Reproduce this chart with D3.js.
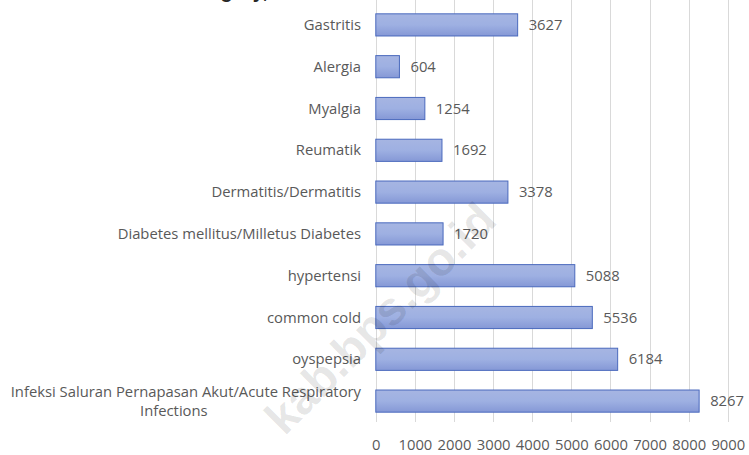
<!DOCTYPE html>
<html><head><meta charset="utf-8">
<script src="https://cdn.jsdelivr.net/npm/d3@7"></script>
<style>
html,body{margin:0;padding:0;background:#fff;}
svg{display:block;}
</style></head>
<body>
<svg id="chart" width="749" height="455"></svg>
<script>
const categories = [
  "Gastritis",
  "Alergia",
  "Myalgia",
  "Reumatik",
  "Dermatitis/Dermatitis",
  "Diabetes mellitus/Milletus Diabetes",
  "hypertensi",
  "common cold",
  "oyspepsia",
  "Infeksi Saluran Pernapasan Akut/Acute Respiratory|Infections"
];
const values = [3627, 604, 1254, 1692, 3378, 1720, 5088, 5536, 6184, 8267];
const xTicks = [0, 1000, 2000, 3000, 4000, 5000, 6000, 7000, 8000, 9000];
const titleText = "Category,";
const watermark = "kab.bps.go.id";

const svg = d3.select("#chart");
const font = "'Open Sans', sans-serif";
const gray = "#595959";
const fs = 14.8;

const x = d3.scaleLinear().domain([0, 9000]).range([375.8, 727.8]);
const y = d3.scaleBand().domain(categories).range([4, 422]).paddingInner(0.47).paddingOuter(0.235);

const defs = svg.append("defs");
const grad = defs.append("linearGradient").attr("id", "barGrad")
  .attr("x1", 0).attr("y1", 0).attr("x2", 0).attr("y2", 1);
grad.append("stop").attr("offset", "0%").attr("stop-color", "#a6b5e2");
grad.append("stop").attr("offset", "50%").attr("stop-color", "#9eb0e2");
grad.append("stop").attr("offset", "100%").attr("stop-color", "#8598d6");

// title fragment (cut off at top, as in the source image)
svg.append("text").attr("x", 268).attr("y", -2)
  .attr("text-anchor", "end").attr("font-family", "'Liberation Sans', sans-serif")
  .attr("font-weight", "bold").attr("font-size", 20).attr("fill", "#262626")
  .text(titleText);

// gridlines
svg.append("g").selectAll("line").data(xTicks).join("line")
  .attr("x1", d => Math.round(x(d)) + 0.5).attr("x2", d => Math.round(x(d)) + 0.5)
  .attr("y1", 0).attr("y2", 422)
  .attr("stroke", "#d9d9d9").attr("stroke-width", 1);

// x axis tick labels
const xAxis = d3.axisBottom(x).tickValues(xTicks).tickSize(0).tickPadding(0).tickFormat(d3.format("d"));
const gx = svg.append("g").attr("transform", "translate(0,439)").call(xAxis);
gx.select(".domain").remove();
gx.selectAll("text").attr("font-family", font).attr("font-size", fs).attr("fill", gray);

// bars
svg.append("g").selectAll("rect").data(values).join("rect")
  .attr("x", x(0))
  .attr("y", (d, i) => y(categories[i]))
  .attr("width", d => x(d) - x(0))
  .attr("height", y.bandwidth())
  .attr("fill", "url(#barGrad)")
  .attr("stroke", "#4a69bd").attr("stroke-width", 1);

// value labels
svg.append("g").selectAll("text").data(values).join("text")
  .attr("x", d => x(d) + 11)
  .attr("y", (d, i) => y(categories[i]) + y.bandwidth() / 2)
  .attr("dy", "0.35em")
  .attr("font-family", font).attr("font-size", fs).attr("fill", gray)
  .text(d => d);

// category labels
const lab = svg.append("g");
categories.forEach(c => {
  const lines = c.split("|");
  const cy = y(c) + y.bandwidth() / 2;
  if (lines.length === 1) {
    lab.append("text").attr("x", 361).attr("y", cy).attr("dy", "0.35em")
      .attr("text-anchor", "end").attr("font-family", font).attr("font-size", fs)
      .attr("fill", gray).text(lines[0]);
  } else {
    const t1 = lab.append("text").attr("x", 361).attr("y", cy - 9).attr("dy", "0.35em")
      .attr("text-anchor", "end").attr("font-family", font).attr("font-size", fs)
      .attr("fill", gray).text(lines[0]);
    const w = t1.node().getComputedTextLength();
    lab.append("text").attr("x", 361 - w / 2 - 12).attr("y", cy + 10).attr("dy", "0.35em")
      .attr("text-anchor", "middle").attr("font-family", font).attr("font-size", fs)
      .attr("fill", gray).text(lines[1]);
  }
});

// watermark
svg.append("text")
  .attr("transform", "translate(380,318) rotate(-45)")
  .attr("text-anchor", "middle").attr("dy", "0.35em")
  .attr("font-family", "'Liberation Sans', sans-serif").attr("font-weight", "bold")
  .attr("font-size", 47).attr("fill", "#000").attr("fill-opacity", 0.1)
  .text(watermark);
</script>
</body></html>
